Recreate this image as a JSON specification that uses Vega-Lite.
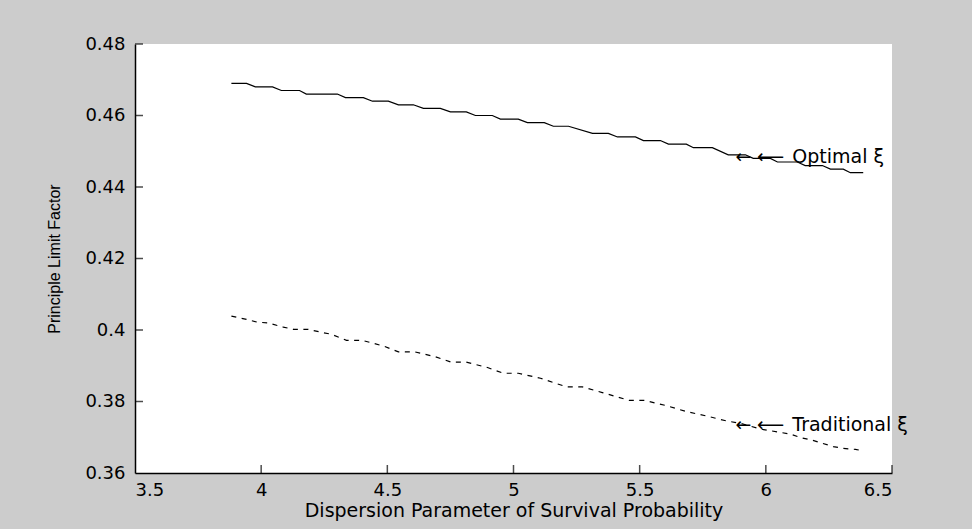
{
  "$schema": "https://vega.github.io/schema/vega-lite/v6.json",
  "width": 757,
  "height": 429,
  "autosize": {"type": "none"},
  "padding": {"left": 135, "top": 44, "right": 80, "bottom": 56},
  "background": "#cccccc",
  "view": {"fill": "white", "stroke": null},
  "config": {
    "axis": {
      "grid": false,
      "ticks": false,
      "domainColor": "#000000",
      "domainWidth": 1.5,
      "labelColor": "#000000",
      "labelFont": "DejaVu Sans",
      "labelFontSize": 18,
      "titleColor": "#000000",
      "titleFont": "DejaVu Sans",
      "titleFontSize": 19,
      "titleFontWeight": "normal"
    }
  },
  "datasets": {
    "optimal": [
      {"x": 3.882, "y": 0.469}, {"x": 3.942, "y": 0.469}, {"x": 3.977, "y": 0.468}, {"x": 4.045, "y": 0.468},
      {"x": 4.080, "y": 0.467}, {"x": 4.152, "y": 0.467}, {"x": 4.179, "y": 0.466}, {"x": 4.302, "y": 0.466},
      {"x": 4.334, "y": 0.465}, {"x": 4.405, "y": 0.465}, {"x": 4.441, "y": 0.464}, {"x": 4.504, "y": 0.464},
      {"x": 4.544, "y": 0.463}, {"x": 4.603, "y": 0.463}, {"x": 4.643, "y": 0.462}, {"x": 4.710, "y": 0.462},
      {"x": 4.750, "y": 0.461}, {"x": 4.813, "y": 0.461}, {"x": 4.849, "y": 0.460}, {"x": 4.916, "y": 0.460},
      {"x": 4.948, "y": 0.459}, {"x": 5.019, "y": 0.459}, {"x": 5.055, "y": 0.458}, {"x": 5.122, "y": 0.458},
      {"x": 5.158, "y": 0.457}, {"x": 5.218, "y": 0.457}, {"x": 5.313, "y": 0.455}, {"x": 5.376, "y": 0.455},
      {"x": 5.412, "y": 0.454}, {"x": 5.483, "y": 0.454}, {"x": 5.515, "y": 0.453}, {"x": 5.582, "y": 0.453},
      {"x": 5.614, "y": 0.452}, {"x": 5.685, "y": 0.452}, {"x": 5.713, "y": 0.451}, {"x": 5.788, "y": 0.451},
      {"x": 5.851, "y": 0.449}, {"x": 5.919, "y": 0.449}, {"x": 5.950, "y": 0.448}, {"x": 6.018, "y": 0.448},
      {"x": 6.046, "y": 0.447}, {"x": 6.125, "y": 0.447}, {"x": 6.156, "y": 0.446}, {"x": 6.224, "y": 0.446},
      {"x": 6.256, "y": 0.445}, {"x": 6.307, "y": 0.445}, {"x": 6.335, "y": 0.444}, {"x": 6.386, "y": 0.444}
    ],
    "traditional": [
      {"x": 3.882, "y": 0.4039}, {"x": 3.946, "y": 0.4029}, {"x": 3.985, "y": 0.4022}, {"x": 4.025, "y": 0.4020},
      {"x": 4.088, "y": 0.4008}, {"x": 4.128, "y": 0.4002}, {"x": 4.187, "y": 0.4002}, {"x": 4.235, "y": 0.3994},
      {"x": 4.279, "y": 0.3988}, {"x": 4.338, "y": 0.3971}, {"x": 4.401, "y": 0.3971}, {"x": 4.485, "y": 0.3955},
      {"x": 4.544, "y": 0.3939}, {"x": 4.607, "y": 0.3939}, {"x": 4.691, "y": 0.3925}, {"x": 4.754, "y": 0.3910},
      {"x": 4.813, "y": 0.3910}, {"x": 4.897, "y": 0.3895}, {"x": 4.960, "y": 0.3879}, {"x": 5.019, "y": 0.3879},
      {"x": 5.107, "y": 0.3865}, {"x": 5.210, "y": 0.3841}, {"x": 5.273, "y": 0.3841}, {"x": 5.352, "y": 0.3825},
      {"x": 5.459, "y": 0.3803}, {"x": 5.519, "y": 0.3803}, {"x": 5.602, "y": 0.3789}, {"x": 5.685, "y": 0.3772},
      {"x": 5.768, "y": 0.3759}, {"x": 5.848, "y": 0.3745}, {"x": 5.899, "y": 0.3739}, {"x": 5.978, "y": 0.3723},
      {"x": 6.046, "y": 0.3715}, {"x": 6.097, "y": 0.3709}, {"x": 6.137, "y": 0.3699}, {"x": 6.184, "y": 0.3692},
      {"x": 6.224, "y": 0.3683}, {"x": 6.267, "y": 0.3674}, {"x": 6.307, "y": 0.3669}, {"x": 6.355, "y": 0.3666},
      {"x": 6.386, "y": 0.3662}
    ],
    "notes": [
      {"x": 5.88, "y": 0.4485, "label": "←"},
      {"x": 5.965, "y": 0.4485, "label": "⟵"},
      {"x": 6.105, "y": 0.4485, "label": "Optimal ξ"},
      {"x": 5.88, "y": 0.3734, "label": "←"},
      {"x": 5.965, "y": 0.3734, "label": "⟵"},
      {"x": 6.105, "y": 0.3734, "label": "Traditional ξ"}
    ],
    "xticks": [{"x": 4}, {"x": 4.5}, {"x": 5}, {"x": 5.5}, {"x": 6}, {"x": 6.5}],
    "yticks": [{"y": 0.38}, {"y": 0.4}, {"y": 0.42}, {"y": 0.44}, {"y": 0.46}, {"y": 0.48}]
  },
  "layer": [
    {
      "data": {"name": "optimal"},
      "mark": {"type": "line", "color": "#000000", "strokeWidth": 1.2},
      "encoding": {
        "x": {
          "field": "x", "type": "quantitative",
          "scale": {"domain": [3.5, 6.5], "nice": false, "zero": false},
          "axis": {
            "title": "Dispersion Parameter of Survival Probability",
            "values": [3.5, 4, 4.5, 5, 5.5, 6, 6.5],
            "format": "~g",
            "labelPadding": 8,
            "titlePadding": 2
          }
        },
        "y": {
          "field": "y", "type": "quantitative",
          "scale": {"domain": [0.36, 0.48], "nice": false, "zero": false},
          "axis": {
            "title": "Principle Limit Factor",
            "titleFont": "Liberation Sans",
            "titleFontSize": 16,
            "values": [0.36, 0.38, 0.4, 0.42, 0.44, 0.46, 0.48],
            "format": "~g",
            "labelPadding": 10,
            "titlePadding": 22
          }
        }
      }
    },
    {
      "data": {"name": "traditional"},
      "mark": {"type": "line", "color": "#000000", "strokeWidth": 1.2, "strokeDash": [5, 5.5]},
      "encoding": {
        "x": {"field": "x", "type": "quantitative"},
        "y": {"field": "y", "type": "quantitative"}
      }
    },
    {
      "data": {"name": "xticks"},
      "mark": {"type": "tick", "orient": "vertical", "color": "#000000", "size": 8, "thickness": 1.5, "yOffset": -4},
      "encoding": {
        "x": {"field": "x", "type": "quantitative"},
        "y": {"datum": 0.36, "type": "quantitative"}
      }
    },
    {
      "data": {"name": "yticks"},
      "mark": {"type": "tick", "orient": "horizontal", "color": "#000000", "size": 8, "thickness": 1.5, "xOffset": 4},
      "encoding": {
        "y": {"field": "y", "type": "quantitative"},
        "x": {"datum": 3.5, "type": "quantitative"}
      }
    },
    {
      "data": {"name": "notes"},
      "mark": {"type": "text", "align": "left", "baseline": "middle", "font": "DejaVu Sans", "fontSize": 19, "color": "#000000", "clip": false},
      "encoding": {
        "x": {"field": "x", "type": "quantitative"},
        "y": {"field": "y", "type": "quantitative"},
        "text": {"field": "label"}
      }
    }
  ]
}
